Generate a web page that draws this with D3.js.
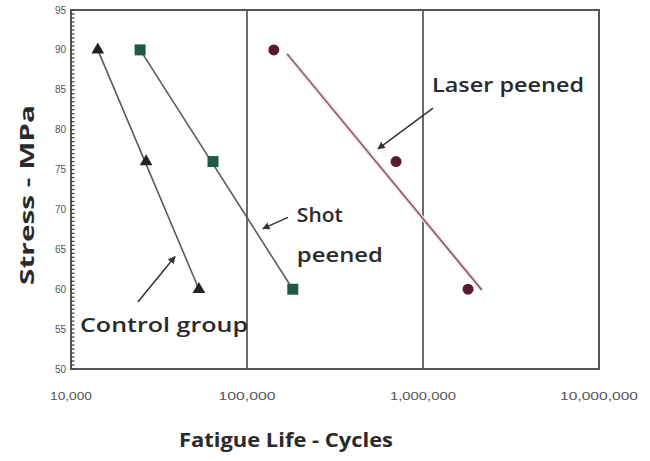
<!DOCTYPE html>
<html><head><meta charset="utf-8">
<script src="https://cdn.jsdelivr.net/npm/d3@7"></script>
<style>body{margin:0;background:#fff}svg{display:block}</style>
</head><body>
<script>
// ---- data ----
const xTicks = [1e4, 1e5, 1e6, 1e7];
const xTickLabels = ["10,000", "100,000", "1,000,000", "10,000,000"];
const yTicks = [50, 55, 60, 65, 70, 75, 80, 85, 90, 95];
const stressLevels = [90, 76, 60];
const controlLife = [14200, 26700, 53300];
const shotLife = [24700, 64100, 182000];
const laserLife = [142000, 703000, 1803000];
// trend line for laser peened (cycles, stress)
const laserFitLife = [169000, 2160000];
const laserFitStress = [89.5, 59.9];
const annotations = [
  {lines: ["Laser peened"], x: 1.125e6, y: 85.6, arrowFrom: [1.14e6, 82.7], arrowTo: [5.55e5, 77.6]},
  {lines: ["Shot", "peened"], x: 1.92e5, y: 69.3, arrowFrom: [1.71e5, 69.0], arrowTo: [1.23e5, 67.6]},
  {lines: ["Control group"], x: 1.125e4, y: 55.5, arrowFrom: [2.40e4, 58.4], arrowTo: [3.90e4, 64.1]}
];

const W = 650, H = 461;
const m = {left: 71, right: 599, top: 10, bottom: 369};
const svg = d3.select("body").append("svg").attr("width", W).attr("height", H);

const x = d3.scaleLog().domain([1e4, 1e7]).range([m.left, m.right]);
const y = d3.scaleLinear().domain([50, 95]).range([m.bottom, m.top]);

// vertical grid lines at decades
svg.append("g").selectAll("line").data([1e5, 1e6]).join("line")
  .attr("x1", d => x(d)).attr("x2", d => x(d))
  .attr("y1", m.top).attr("y2", m.bottom)
  .attr("stroke", "#6a6a6a").attr("stroke-width", 2);

// frame
svg.append("rect").attr("x", m.left).attr("y", m.top)
  .attr("width", m.right - m.left).attr("height", m.bottom - m.top)
  .attr("fill", "none").attr("stroke", "#555").attr("stroke-width", 2);

// y axis minor ticks (inside)
const minor = d3.range(50, 95.01, 0.5);
svg.append("g").selectAll("line").data(minor).join("line")
  .attr("x1", m.left).attr("x2", m.left + 3.5)
  .attr("y1", d => y(d)).attr("y2", d => y(d))
  .attr("stroke", "#444").attr("stroke-width", 1.3);

// y tick labels
svg.append("g").selectAll("text").data(yTicks).join("text")
  .attr("x", m.left - 5).attr("y", d => y(d)).attr("dy", "0.35em")
  .attr("text-anchor", "end")
  .attr("font-family", "Liberation Sans, Arial, sans-serif")
  .attr("font-size", 10).attr("fill", "#555")
  .text(d => d);

// x tick labels
const xw = [42, 57, 66, 78];
svg.append("g").selectAll("text").data(xTicks).join("text")
  .attr("x", d => x(d)).attr("y", 400)
  .attr("text-anchor", "middle")
  .attr("font-family", "Liberation Sans, Arial, sans-serif")
  .attr("font-size", 11).attr("fill", "#555")
  .attr("textLength", (d, i) => xw[i]).attr("lengthAdjust", "spacingAndGlyphs")
  .text((d, i) => xTickLabels[i]);

// axis titles
svg.append("text").attr("x", 286).attr("y", 447)
  .attr("text-anchor", "middle")
  .attr("font-family", "Open Sans, sans-serif").attr("font-weight", 700)
  .attr("font-size", 19).attr("fill", "#2a2a2a")
  .attr("textLength", 214).attr("lengthAdjust", "spacingAndGlyphs")
  .text("Fatigue Life - Cycles");
svg.append("text").attr("transform", "translate(34,195) rotate(-90)")
  .attr("text-anchor", "middle")
  .attr("font-family", "Open Sans, sans-serif").attr("font-weight", 700)
  .attr("font-size", 19).attr("fill", "#2a2a2a")
  .attr("textLength", 180).attr("lengthAdjust", "spacingAndGlyphs")
  .text("Stress - MPa");

// lines
const line = d3.line().x(d => x(d[0])).y(d => y(d[1]));
const ctrlPts = controlLife.map((v, i) => [v, stressLevels[i]]);
const shotPts = shotLife.map((v, i) => [v, stressLevels[i]]);
const laserPts = laserLife.map((v, i) => [v, stressLevels[i]]);
svg.append("path").datum([ctrlPts[0], ctrlPts[2]]).attr("d", line)
  .attr("stroke", "#5a5a5a").attr("stroke-width", 1.6).attr("fill", "none");
svg.append("path").datum([shotPts[0], shotPts[2]]).attr("d", line)
  .attr("stroke", "#50625a").attr("stroke-width", 1.6).attr("fill", "none");
svg.append("path").datum(laserFitLife.map((v, i) => [v, laserFitStress[i]])).attr("d", line)
  .attr("stroke", "#f8dde3").attr("stroke-width", 4).attr("fill", "none");
svg.append("path").datum(laserFitLife.map((v, i) => [v, laserFitStress[i]])).attr("d", line)
  .attr("stroke", "#7a5a62").attr("stroke-width", 1.5).attr("fill", "none");

// markers
svg.append("g").selectAll("path").data(ctrlPts).join("path")
  .attr("transform", d => `translate(${x(d[0])},${y(d[1])})`)
  .attr("d", d3.symbol(d3.symbolTriangle, 70))
  .attr("fill", "#222");
svg.append("g").selectAll("rect").data(shotPts).join("rect")
  .attr("x", d => x(d[0]) - 5.5).attr("y", d => y(d[1]) - 5.5)
  .attr("width", 11).attr("height", 11)
  .attr("fill", "#1f5a48");
svg.append("g").selectAll("circle").data(laserPts).join("circle")
  .attr("cx", d => x(d[0])).attr("cy", d => y(d[1])).attr("r", 5.5)
  .attr("fill", "#5a1a32");

// arrows
svg.append("defs").append("marker").attr("id", "ah")
  .attr("viewBox", "0 0 10 10").attr("refX", 9).attr("refY", 5)
  .attr("markerWidth", 5).attr("markerHeight", 5).attr("orient", "auto")
  .append("path").attr("d", "M0,0L10,5L0,10z").attr("fill", "#333");
svg.append("g").selectAll("line").data(annotations).join("line")
  .attr("x1", d => x(d.arrowFrom[0])).attr("y1", d => y(d.arrowFrom[1]))
  .attr("x2", d => x(d.arrowTo[0])).attr("y2", d => y(d.arrowTo[1]))
  .attr("stroke", "#333").attr("stroke-width", 1.5)
  .attr("marker-end", "url(#ah)");

// annotation labels (left-anchored)
const widths = {"Laser peened": 152, "Shot": 46, "peened": 86, "Control group": 168};
annotations.forEach(a => {
  a.lines.forEach((t, i) => {
    svg.append("text")
      .attr("x", x(a.x)).attr("y", y(a.y) + i * 40)
      .attr("dy", "0.35em")
      .attr("text-anchor", "start")
      .attr("font-family", "Open Sans, sans-serif").attr("font-weight", 600)
      .attr("font-size", 19).attr("fill", "#2a2a2a")
      .attr("textLength", widths[t]).attr("lengthAdjust", "spacingAndGlyphs")
      .text(t);
  });
});
</script>
</body></html>
